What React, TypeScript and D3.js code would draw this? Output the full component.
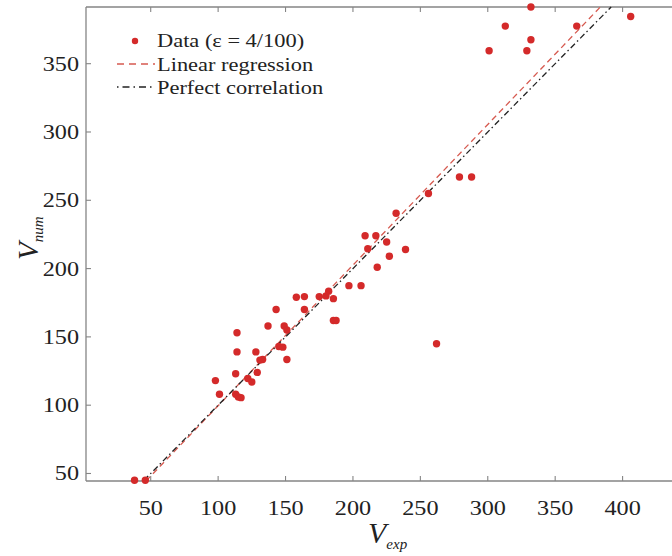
import React, { useRef, useEffect } from 'react';
import * as d3 from 'd3';

const expValues = [38, 46, 98, 101, 113, 114, 114, 113, 115, 117, 122, 125, 129, 128, 131, 133, 137, 143, 145, 148, 149, 151, 151, 158, 164, 164, 175, 180, 182, 185.5, 185.5, 187.5, 197, 206, 209, 211, 217, 218, 225, 227, 232, 239, 256, 262, 279, 288, 301, 313, 329, 332, 332, 366, 406];
const numValues = [45, 45, 118, 108, 123, 139, 153, 108, 106, 105.5, 119.5, 117, 124, 139, 133, 133.5, 158, 170, 143, 142.5, 158, 155, 133.5, 179, 179.5, 170, 179.5, 180, 183.5, 178, 162, 162, 187.5, 187.5, 224, 214.5, 224, 201, 219.5, 209, 240.5, 214, 255, 145, 267, 267, 359.5, 377.5, 359.5, 367.5, 391.5, 377.5, 384.5];

const regressionLine = [[46.5, 44.5], [383.5, 391.5]];
const perfectLine = [[45, 45], [391.5, 391.5]];

const xTicks = [50, 100, 150, 200, 250, 300, 350, 400];
const yTicks = [50, 100, 150, 200, 250, 300, 350];
const legendLabels = ['Data (ε = 4/100)', 'Linear regression', 'Perfect correlation'];

const RED = '#d42a2a';
const LINE_RED = '#d65a50';
const AXIS = '#858585';
const FONT = '"Liberation Serif", "Times New Roman", serif';
const STRETCH = 1.1;

const App = () => {
  const svgRef = useRef(null);
  const width = 672;
  const height = 556;

  useEffect(() => {
    const svg = d3.select(svgRef.current);
    svg.selectAll('*').remove();

    const left = 86, right = 690, top = 7, bottom = 481;
    const x = d3.scaleLinear().domain([2, 450]).range([left, right]);
    const y = d3.scaleLinear().domain([44.5, 391.5]).range([bottom, top]);

    const g = svg.append('g');

    // frame
    g.append('line').attr('x1', left).attr('x2', right).attr('y1', top).attr('y2', top)
      .attr('stroke', AXIS).attr('stroke-width', 1.3);
    g.append('line').attr('x1', left).attr('x2', right).attr('y1', bottom).attr('y2', bottom)
      .attr('stroke', AXIS).attr('stroke-width', 1.3);
    g.append('line').attr('x1', left).attr('x2', left).attr('y1', top).attr('y2', bottom)
      .attr('stroke', AXIS).attr('stroke-width', 1.3);

    // ticks, pointing inward
    g.selectAll('.xt').data(xTicks).enter().append('line')
      .attr('x1', d => x(d)).attr('x2', d => x(d)).attr('y1', bottom).attr('y2', bottom - 5)
      .attr('stroke', AXIS).attr('stroke-width', 1.1);
    g.selectAll('.xtt').data(xTicks).enter().append('line')
      .attr('x1', d => x(d)).attr('x2', d => x(d)).attr('y1', top).attr('y2', top + 5)
      .attr('stroke', AXIS).attr('stroke-width', 1.1);
    g.selectAll('.yt').data(yTicks).enter().append('line')
      .attr('x1', left).attr('x2', left + 5).attr('y1', d => y(d)).attr('y2', d => y(d))
      .attr('stroke', AXIS).attr('stroke-width', 1.1);

    g.selectAll('.xl').data(xTicks).enter().append('text')
      .attr('transform', d => `translate(${x(d)},515) scale(${STRETCH},1)`)
      .attr('text-anchor', 'middle')
      .style('font-family', FONT).style('font-size', '22px').attr('fill', '#222')
      .text(d => d);
    g.selectAll('.yl').data(yTicks).enter().append('text')
      .attr('transform', d => `translate(79,${y(d) + 7}) scale(${STRETCH},1)`)
      .attr('text-anchor', 'end')
      .style('font-family', FONT).style('font-size', '22px').attr('fill', '#222')
      .text(d => d);

    // axis titles
    const xt = g.append('text')
      .attr('transform', 'translate(368,543)')
      .style('font-family', FONT).style('font-style', 'italic').attr('fill', '#222');
    xt.append('tspan').style('font-size', '30px').text('V');
    xt.append('tspan').style('font-size', '15px').attr('dy', 6).text('exp');

    const yt = g.append('text')
      .attr('transform', 'translate(38,260) rotate(-90)')
      .style('font-family', FONT).style('font-style', 'italic').attr('fill', '#222');
    yt.append('tspan').style('font-size', '29px').text('V');
    yt.append('tspan').style('font-size', '15px').attr('dy', 5).text('num');

    // lines
    const line = d3.line().x(d => x(d[0])).y(d => y(d[1]));
    g.append('path').attr('d', line(regressionLine)).attr('fill', 'none')
      .attr('stroke', LINE_RED).attr('stroke-width', 1.3).attr('stroke-dasharray', '6,4');
    g.append('path').attr('d', line(perfectLine)).attr('fill', 'none')
      .attr('stroke', '#222').attr('stroke-width', 1.3).attr('stroke-dasharray', '6,3,1.5,3');

    // points
    g.selectAll('.pt').data(expValues).enter().append('circle')
      .attr('cx', d => x(d)).attr('cy', (d, i) => y(numValues[i]))
      .attr('r', 3.7).attr('fill', RED);

    // legend
    const lg = g.append('g');
    lg.append('circle').attr('cx', 135).attr('cy', 41).attr('r', 3.2).attr('fill', RED);
    lg.append('line').attr('x1', 117).attr('x2', 155).attr('y1', 64).attr('y2', 64)
      .attr('stroke', LINE_RED).attr('stroke-width', 1.3).attr('stroke-dasharray', '7,5');
    lg.append('line').attr('x1', 117).attr('x2', 155).attr('y1', 87).attr('y2', 87)
      .attr('stroke', '#222').attr('stroke-width', 1.3).attr('stroke-dasharray', '1.5,4,7,4');
    lg.selectAll('.lt').data(legendLabels).enter().append('text')
      .attr('transform', (d, i) => `translate(157,${47 + i * 23.5}) scale(1.15,1)`)
      .style('font-family', FONT).style('font-size', '19.5px').attr('fill', '#222')
      .text(d => d);
  }, []);

  return (
    <svg ref={svgRef} width={width} height={height}
      style={{ position: 'absolute', left: 0, top: 0, display: 'block', background: '#fff' }}></svg>
  );
};

export default App;
